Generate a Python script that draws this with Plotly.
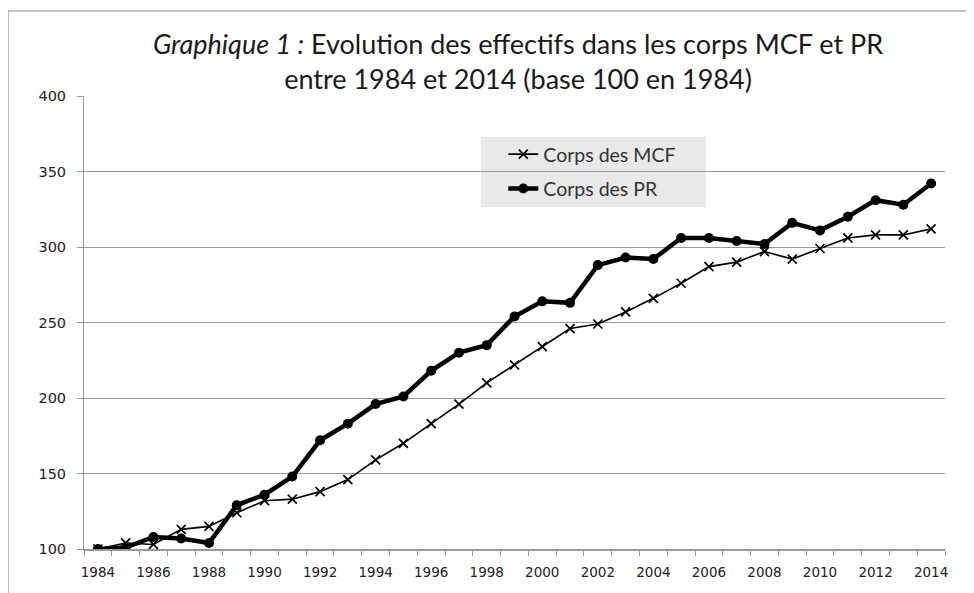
import plotly.graph_objects as go

years = list(range(1984, 2015))
mcf = [100, 104, 103, 113, 115, 124, 132, 133, 138, 146, 159,
       170, 183, 196, 210, 222, 234, 246, 249, 257, 266,
       276, 287, 290, 297, 292, 299, 306, 308, 308, 312]
pr = [100, 101, 108, 107, 104, 129, 136, 148, 172, 183, 196,
      201, 218, 230, 235, 254, 264, 263, 288, 293, 292,
      306, 306, 304, 302, 316, 311, 320, 331, 328, 342]
y_ticks = [100, 150, 200, 250, 300, 350, 400]
x_ticks = list(range(1984, 2015, 2))

fig = go.Figure()
fig.add_trace(go.Scatter(
    x=years, y=mcf, name="Corps des MCF", mode="lines+markers", legendgroup="a",
    line=dict(color="black", width=1.6),
    marker=dict(symbol="x-thin", size=9, line=dict(color="black", width=1.7), color="black"),
))
fig.add_trace(go.Scatter(
    x=years, y=pr, name="Corps des PR", mode="lines+markers", legendgroup="b",
    line=dict(color="black", width=4.5),
    marker=dict(symbol="circle", size=10, color="black"),
))

fig.update_layout(
    width=966, height=585,
    margin=dict(l=76, r=29, t=88, b=44),
    paper_bgcolor="white", plot_bgcolor="white",
    font=dict(family="Lato", color="#222"),
    title=dict(
        text="<i>Graphique 1 :</i> Evolution des effectifs dans les corps MCF et PR<br>entre 1984 et 2014 (base 100 en 1984)",
        x=0.528, xanchor="center", xref="container",
        y=0.922, yanchor="top", yref="container",
        font=dict(family="Lato", size=27, color="#1a1a1a"),
    ),
    legend=dict(
        x=0.487, y=0.914, xanchor="left", yanchor="top",
        bgcolor="rgba(0,0,0,0)", borderwidth=0,
        font=dict(family="Lato", size=19.5, color="#333"),
        itemwidth=30, tracegroupgap=6,
    ),
    showlegend=True,
    xaxis=dict(
        range=[1983.5, 2014.5], tickmode="array", tickvals=x_ticks,
        ticktext=[str(t) for t in x_ticks],
        ticks="", showgrid=False, zeroline=False,
        showline=True, linecolor="#999", linewidth=1.5,
        ticklabelstandoff=10,
        tickfont=dict(family="DejaVu Sans", size=13.5, color="#222"),
        minor=dict(ticks="outside", tick0=1983.5, dtick=1, ticklen=5, tickcolor="#999", showgrid=False),
    ),
    yaxis=dict(
        range=[100, 400], tickmode="array", tickvals=y_ticks,
        ticks="outside", ticklen=6, tickcolor="#999",
        ticklabelstandoff=8,
        showgrid=True, gridcolor="#999", gridwidth=1,
        zeroline=False, showline=True, linecolor="#999", linewidth=1,
        tickfont=dict(family="DejaVu Sans", size=14.5, color="#222"),
    ),
    shapes=[
        dict(type="rect", xref="paper", yref="paper",
             x0=-0.0883, x1=1.2, y0=-0.3, y1=1.1876,
             line=dict(color="#888", width=1.2), fillcolor="rgba(0,0,0,0)", layer="below"),
        dict(type="rect", xref="paper", yref="paper",
             x0=0.461, x1=0.7224, y0=0.755, y1=0.9095,
             line=dict(width=0), fillcolor="#e9e9e9", layer="below"),
    ],
)

fig.write_html("out.html")
